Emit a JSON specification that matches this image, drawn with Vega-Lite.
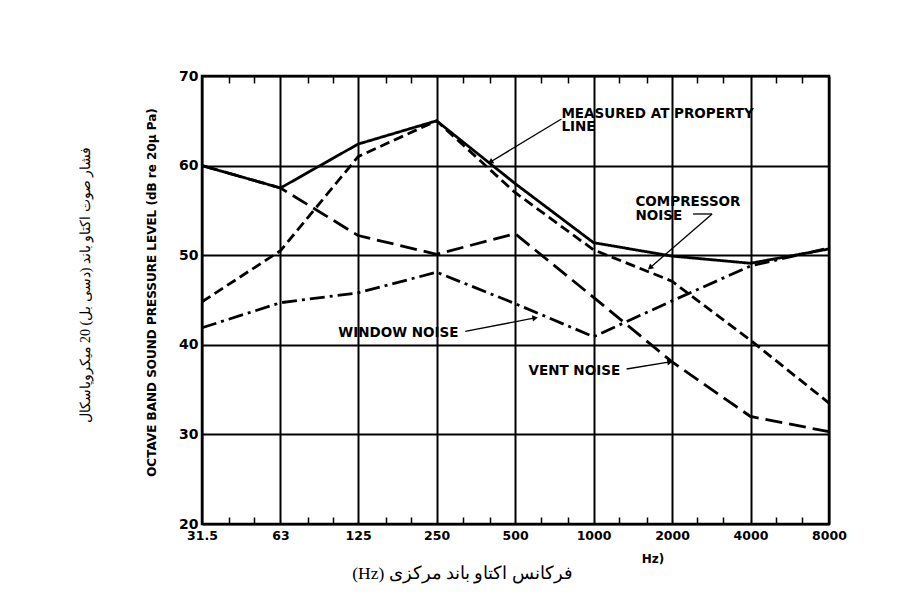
{
  "$schema": "https://vega.github.io/schema/vega-lite/v6.json",
  "width": 627,
  "height": 448,
  "autosize": {"type": "none"},
  "padding": {"left": 202, "top": 76, "right": 91, "bottom": 73},
  "background": "white",
  "title": {
    "text": "\u202bفشار صوت اکتاو باند (دسی بل) 20 میکروپاسکال\u202c",
    "orient": "left",
    "anchor": "middle",
    "font": "Liberation Serif",
    "fontSize": 14,
    "fontWeight": "normal",
    "color": "black",
    "offset": 52,
    "dx": 15
  },
  "datasets": {
    "curves": [
      {"series": "Measured at property line", "freq": 31.5, "db": 60},
      {"series": "Measured at property line", "freq": 63, "db": 57.5},
      {"series": "Measured at property line", "freq": 125, "db": 62.4},
      {"series": "Measured at property line", "freq": 250, "db": 65},
      {"series": "Measured at property line", "freq": 500, "db": 58},
      {"series": "Measured at property line", "freq": 1000, "db": 51.4},
      {"series": "Measured at property line", "freq": 2000, "db": 49.9},
      {"series": "Measured at property line", "freq": 4000, "db": 49.1},
      {"series": "Measured at property line", "freq": 8000, "db": 50.7},
      {"series": "Compressor noise", "freq": 31.5, "db": 44.8},
      {"series": "Compressor noise", "freq": 63, "db": 50.5},
      {"series": "Compressor noise", "freq": 125, "db": 61},
      {"series": "Compressor noise", "freq": 250, "db": 65},
      {"series": "Compressor noise", "freq": 500, "db": 57},
      {"series": "Compressor noise", "freq": 1000, "db": 50.6},
      {"series": "Compressor noise", "freq": 2000, "db": 47.1},
      {"series": "Compressor noise", "freq": 4000, "db": 40.5},
      {"series": "Compressor noise", "freq": 8000, "db": 33.5},
      {"series": "Vent noise", "freq": 31.5, "db": 60},
      {"series": "Vent noise", "freq": 63, "db": 57.5},
      {"series": "Vent noise", "freq": 125, "db": 52.2},
      {"series": "Vent noise", "freq": 250, "db": 50.1},
      {"series": "Vent noise", "freq": 500, "db": 52.4},
      {"series": "Vent noise", "freq": 1000, "db": 45.3},
      {"series": "Vent noise", "freq": 2000, "db": 38.1},
      {"series": "Vent noise", "freq": 4000, "db": 32},
      {"series": "Vent noise", "freq": 8000, "db": 30.3},
      {"series": "Window noise", "freq": 31.5, "db": 41.9},
      {"series": "Window noise", "freq": 63, "db": 44.7},
      {"series": "Window noise", "freq": 125, "db": 45.8},
      {"series": "Window noise", "freq": 250, "db": 48.1},
      {"series": "Window noise", "freq": 500, "db": 44.6},
      {"series": "Window noise", "freq": 1000, "db": 40.9},
      {"series": "Window noise", "freq": 2000, "db": 44.9},
      {"series": "Window noise", "freq": 4000, "db": 48.8},
      {"series": "Window noise", "freq": 8000, "db": 50.8}
    ],
    "labels": [
      {"label": "MEASURED AT PROPERTY", "freq": 753, "db": 65.3},
      {"label": "LINE", "freq": 753, "db": 63.85},
      {"label": "COMPRESSOR", "freq": 1448, "db": 55.5},
      {"label": "NOISE", "freq": 1448, "db": 53.95},
      {"label": "WINDOW NOISE", "freq": 105, "db": 40.9},
      {"label": "VENT NOISE", "freq": 563, "db": 36.6}
    ],
    "leaders": [
      {"arrow": "measured", "freq": 753, "db": 65.2, "freq2": 402, "db2": 60.4},
      {"arrow": "compressor", "freq": 2408, "db": 54.6, "freq2": 2849, "db2": 54.6},
      {"arrow": "compressor", "freq": 2849, "db": 54.6, "freq2": 1647, "db2": 48.6},
      {"arrow": "window", "freq": 322, "db": 41.5, "freq2": 597, "db2": 43.0},
      {"arrow": "vent", "freq": 1339, "db": 37.3, "freq2": 1965, "db2": 38.1}
    ],
    "tips": [
      {"arrow": "measured", "freq": 402, "db": 60.4},
      {"arrow": "compressor", "freq": 1647, "db": 48.6},
      {"arrow": "window", "freq": 597, "db": 43.0},
      {"arrow": "vent", "freq": 1965, "db": 38.1}
    ],
    "remnant": [
      {"label": "Hz)", "freq": 1690, "db": 16.1}
    ]
  },
  "layer": [
    {
      "data": {"name": "curves"},
      "mark": {"type": "line", "color": "black", "strokeWidth": 2.8, "strokeCap": "butt", "strokeJoin": "round"},
      "encoding": {
        "x": {
          "field": "freq", "type": "quantitative",
          "scale": {"type": "log", "base": 2, "domain": [31.5, 8000], "nice": false},
          "axis": {
            "orient": "bottom",
            "values": [31.5, 63, 125, 250, 500, 1000, 2000, 4000, 8000],
            "labelExpr": "datum.value + ''",
            "labelFlush": false,
            "labelOverlap": false,
            "labelFont": "DejaVu Sans",
            "labelFontWeight": "bold",
            "labelFontSize": 12.5,
            "labelColor": "black",
            "labelPadding": 5,
            "ticks": false,
            "tickSize": 0,
            "domain": false,
            "grid": true,
            "gridColor": "black",
            "gridWidth": 2,
            "gridOpacity": 1,
            "title": "\u202bفرکانس اکتاو باند مرکزی (Hz)\u202c",
            "titleFont": "Liberation Serif",
            "titleFontSize": 17.5,
            "titleFontWeight": "normal",
            "titleColor": "black",
            "titleX": 260,
            "titleY": 49,
            "titleAlign": "center",
            "titleBaseline": "middle"
          }
        },
        "y": {
          "field": "db", "type": "quantitative",
          "scale": {"domain": [20, 70], "nice": false},
          "axis": {
            "values": [20, 30, 40, 50, 60, 70],
            "grid": true,
            "gridColor": "black",
            "gridWidth": 2,
            "gridOpacity": 1,
            "ticks": false,
            "tickSize": 0,
            "domain": false,
            "labelFont": "DejaVu Sans",
            "labelFontWeight": "bold",
            "labelFontSize": 14,
            "labelColor": "black",
            "labelPadding": 4,
            "title": "OCTAVE BAND SOUND PRESSURE LEVEL (dB re 20µ Pa)",
            "titleFont": "DejaVu Sans",
            "titleFontWeight": "bold",
            "titleFontSize": 12,
            "titleColor": "black",
            "titleX": -51,
            "titleY": 216,
            "titleAngle": -90,
            "titleAlign": "center",
            "titleBaseline": "middle"
          }
        },
        "strokeDash": {
          "field": "series", "type": "nominal",
          "scale": {
            "domain": ["Measured at property line", "Compressor noise", "Vent noise", "Window noise"],
            "range": [[1, 0], [10, 5], [17, 7], [15, 5, 3, 5]]
          },
          "legend": null
        },
        "detail": {"field": "series"}
      }
    },
    {
      "data": {"name": "leaders"},
      "mark": {"type": "rule", "color": "black", "strokeWidth": 1.3},
      "encoding": {
        "x": {
          "field": "freq", "type": "quantitative",
          "axis": {
            "orient": "bottom",
            "values": [40, 50, 80, 100, 160, 200, 315, 400, 630, 800, 1250, 1600, 2500, 3150, 5000, 6300],
            "labels": false,
            "domain": false,
            "grid": false,
            "ticks": true,
            "tickSize": -7,
            "tickWidth": 1.5,
            "tickColor": "black",
            "title": null
          }
        },
        "y": {"field": "db", "type": "quantitative"},
        "x2": {"field": "freq2"},
        "y2": {"field": "db2"}
      }
    },
    {
      "data": {"name": "labels"},
      "mark": {"type": "text", "font": "DejaVu Sans", "fontWeight": "bold", "fontSize": 13.5, "align": "left", "baseline": "alphabetic", "color": "black"},
      "encoding": {
        "x": {
          "field": "freq", "type": "quantitative",
          "axis": {
            "orient": "top",
            "values": [40, 50, 80, 100, 160, 200, 315, 400, 630, 800, 1250, 1600, 2500, 3150, 5000, 6300],
            "labels": false,
            "domain": false,
            "grid": false,
            "ticks": true,
            "tickSize": -7,
            "tickWidth": 1.5,
            "tickColor": "black",
            "title": null
          }
        },
        "y": {"field": "db", "type": "quantitative"},
        "text": {"field": "label"}
      }
    },
    {
      "data": {"name": "remnant"},
      "mark": {"type": "text", "font": "DejaVu Sans", "fontWeight": "bold", "fontSize": 12, "align": "center", "baseline": "middle", "color": "black"},
      "encoding": {
        "x": {"field": "freq", "type": "quantitative", "axis": null},
        "y": {"field": "db", "type": "quantitative"},
        "text": {"field": "label"}
      }
    },
    {
      "data": {"name": "tips"},
      "transform": [{"filter": "datum.arrow == 'measured'"}],
      "mark": {"type": "point", "shape": "triangle-up", "filled": true, "color": "black", "opacity": 1, "size": 40, "angle": 239},
      "encoding": {
        "x": {"field": "freq", "type": "quantitative", "axis": null},
        "y": {"field": "db", "type": "quantitative"}
      }
    },
    {
      "data": {"name": "tips"},
      "transform": [{"filter": "datum.arrow == 'compressor'"}],
      "mark": {"type": "point", "shape": "triangle-up", "filled": true, "color": "black", "opacity": 1, "size": 40, "angle": 229},
      "encoding": {
        "x": {"field": "freq", "type": "quantitative", "axis": null},
        "y": {"field": "db", "type": "quantitative"}
      }
    },
    {
      "data": {"name": "tips"},
      "transform": [{"filter": "datum.arrow == 'window'"}],
      "mark": {"type": "point", "shape": "triangle-up", "filled": true, "color": "black", "opacity": 1, "size": 40, "angle": 80},
      "encoding": {
        "x": {"field": "freq", "type": "quantitative", "axis": null},
        "y": {"field": "db", "type": "quantitative"}
      }
    },
    {
      "data": {"name": "tips"},
      "transform": [{"filter": "datum.arrow == 'vent'"}],
      "mark": {"type": "point", "shape": "triangle-up", "filled": true, "color": "black", "opacity": 1, "size": 40, "angle": 81},
      "encoding": {
        "x": {"field": "freq", "type": "quantitative", "axis": null},
        "y": {"field": "db", "type": "quantitative"}
      }
    }
  ],
  "resolve": {"axis": {"x": "independent"}},
  "config": {
    "view": {"stroke": "black", "strokeWidth": 2.5, "fill": "white"}
  }
}
